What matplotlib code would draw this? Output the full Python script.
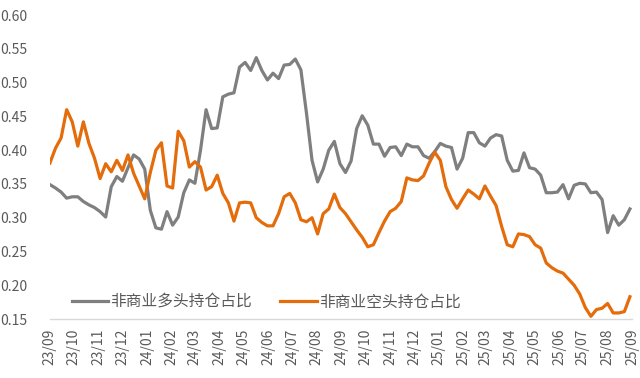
import matplotlib
matplotlib.use("Agg")
import matplotlib.pyplot as plt
import matplotlib.dates as mdates
import pandas as pd

plt.rcParams['font.family'] = ['Noto Sans CJK SC', 'DejaVu Sans']

# weekly COT ratios, Sep 2023 - Aug 2025
long_ratio = [
    0.349, 0.344, 0.338, 0.329, 0.331, 0.331, 0.324, 0.319, 0.315, 0.309,
    0.301, 0.346, 0.361, 0.354, 0.374, 0.393, 0.387, 0.372, 0.311, 0.285,
    0.283, 0.309, 0.289, 0.301, 0.337, 0.356, 0.351, 0.400, 0.460, 0.432,
    0.433, 0.479, 0.483, 0.485, 0.523, 0.530, 0.518, 0.537, 0.518, 0.504,
    0.514, 0.506, 0.526, 0.527, 0.535, 0.519, 0.455, 0.385, 0.353, 0.372,
    0.400, 0.413, 0.380, 0.367, 0.384, 0.432, 0.451, 0.437, 0.409, 0.409,
    0.391, 0.404, 0.405, 0.392, 0.409, 0.405, 0.405, 0.392, 0.388, 0.398,
    0.410, 0.406, 0.404, 0.372, 0.388, 0.426, 0.426, 0.411, 0.406, 0.418,
    0.423, 0.421, 0.385, 0.369, 0.370, 0.396, 0.374, 0.372, 0.363, 0.337,
    0.337, 0.338, 0.349, 0.328, 0.348, 0.351, 0.350, 0.337, 0.338, 0.327,
    0.278, 0.303, 0.289, 0.297, 0.313,
]
short_ratio = [
    0.381, 0.403, 0.418, 0.460, 0.442, 0.406, 0.442, 0.410, 0.388, 0.358,
    0.380, 0.368, 0.385, 0.370, 0.393, 0.366, 0.347, 0.328, 0.367, 0.400,
    0.411, 0.347, 0.344, 0.428, 0.414, 0.375, 0.383, 0.375, 0.341, 0.346,
    0.363, 0.336, 0.322, 0.295, 0.322, 0.323, 0.322, 0.300, 0.293, 0.288,
    0.288, 0.306, 0.331, 0.336, 0.322, 0.297, 0.294, 0.300, 0.276, 0.306,
    0.313, 0.335, 0.315, 0.306, 0.294, 0.282, 0.271, 0.257, 0.260, 0.278,
    0.295, 0.309, 0.314, 0.324, 0.359, 0.356, 0.355, 0.362, 0.381, 0.397,
    0.385, 0.346, 0.327, 0.314, 0.328, 0.341, 0.335, 0.328, 0.347, 0.332,
    0.318, 0.287, 0.260, 0.257, 0.276, 0.275, 0.272, 0.260, 0.255, 0.233,
    0.226, 0.221, 0.218, 0.209, 0.200, 0.187, 0.167, 0.154, 0.164, 0.166,
    0.173, 0.159, 0.159, 0.161, 0.183,
]
series_names = ["非商业多头持仓占比", "非商业空头持仓占比"]

dates = pd.date_range("2023-09-01", periods=len(long_ratio), freq="7D")
month_ticks = pd.date_range("2023-09-01", "2025-09-01", freq="MS")

fig = plt.figure(figsize=(6.4, 3.78), dpi=100)
ax = fig.add_axes([0.078, 0.156, 0.91, 0.804])

ax.plot(dates, long_ratio, color='#7F7F7F', lw=2.3, label=series_names[0])
ax.plot(dates, short_ratio, color='#E46C0A', lw=2.3, label=series_names[1])

ax.set_ylim(0.15, 0.60)
ax.set_yticks([0.15 + 0.05 * i for i in range(10)])
ax.yaxis.set_major_formatter(matplotlib.ticker.FormatStrFormatter('%.2f'))
ax.set_xlim(month_ticks[0], month_ticks[-1])
ax.set_xticks(month_ticks)
ax.xaxis.set_major_formatter(mdates.DateFormatter('%y/%m'))

for s in ['top', 'right', 'left']:
    ax.spines[s].set_visible(False)
ax.spines['bottom'].set_color('#D9D9D9')
ax.spines['bottom'].set_linewidth(1.0)
ax.tick_params(axis='both', length=0, colors='#595959', labelsize=10)
ax.tick_params(axis='y', pad=16)
ax.tick_params(axis='x', pad=7, labelrotation=90)

ax.legend(loc='center left', bbox_to_anchor=(72 / 640, 1 - 302 / 378),
          bbox_transform=fig.transFigure, ncol=2, frameon=False,
          fontsize=11.3, handlelength=2.3, handletextpad=0.15,
          columnspacing=1.8, borderpad=0, borderaxespad=0,
          labelcolor='#595959')

plt.savefig("out.png", dpi=100)
plt.close()
